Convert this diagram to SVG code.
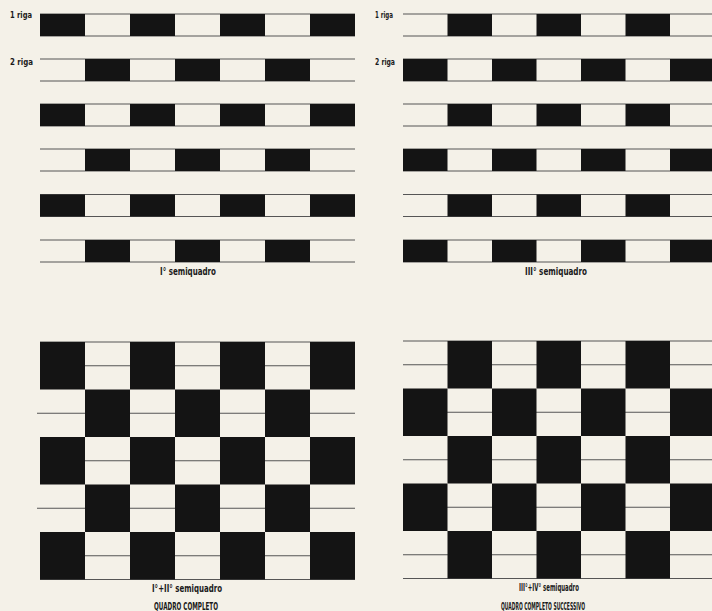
<svg xmlns="http://www.w3.org/2000/svg" width="712" height="611" viewBox="0 0 712 611">
<style>
.b{fill:#141414}
.l{stroke:#555;stroke-width:1;fill:none}
.t{font-family:"DejaVu Sans Condensed","DejaVu Sans",sans-serif;font-weight:bold;fill:#1a1a1a}
.s{font-size:9px}
.c{font-size:10px;text-anchor:middle}
</style>
<rect width="712" height="611" fill="#f4f1e8"/>
<g id="panel-I">
<g class="l">
<path d="M40 14H355M40 36H355M40 59H355M40 81H355M40 104H355M40 126H355M40 149H355M40 171H355M40 194.5H355M40 216.5H355M40 240H355M40 262H355"/>
</g>
<g class="b">
<rect x="40" y="14" width="45" height="22"/><rect x="130" y="14" width="45" height="22"/><rect x="220" y="14" width="45" height="22"/><rect x="310" y="14" width="45" height="22"/>
<rect x="85" y="59" width="45" height="22"/><rect x="175" y="59" width="45" height="22"/><rect x="265" y="59" width="45" height="22"/>
<rect x="40" y="104" width="45" height="22"/><rect x="130" y="104" width="45" height="22"/><rect x="220" y="104" width="45" height="22"/><rect x="310" y="104" width="45" height="22"/>
<rect x="85" y="149" width="45" height="22"/><rect x="175" y="149" width="45" height="22"/><rect x="265" y="149" width="45" height="22"/>
<rect x="40" y="194.5" width="45" height="22"/><rect x="130" y="194.5" width="45" height="22"/><rect x="220" y="194.5" width="45" height="22"/><rect x="310" y="194.5" width="45" height="22"/>
<rect x="85" y="240" width="45" height="22"/><rect x="175" y="240" width="45" height="22"/><rect x="265" y="240" width="45" height="22"/>
</g>
<text class="t s" x="10" y="18" textLength="22" lengthAdjust="spacingAndGlyphs">1 riga</text>
<text class="t s" x="10" y="65" textLength="23" lengthAdjust="spacingAndGlyphs">2 riga</text>
<text class="t c" x="188" y="275" textLength="56" lengthAdjust="spacingAndGlyphs">I° semiquadro</text>
</g>
<g id="panel-III">
<g class="l">
<path d="M403 14H712M403 36H712M403 59H712M403 81H712M403 104H712M403 126H712M403 149H712M403 171H712M403 194.5H712M403 216.5H712M403 240H712M403 262H712"/>
</g>
<g class="b">
<rect x="447.5" y="14" width="44.5" height="22"/><rect x="536.5" y="14" width="44.5" height="22"/><rect x="625.5" y="14" width="44.5" height="22"/>
<rect x="403" y="59" width="44.5" height="22"/><rect x="492" y="59" width="44.5" height="22"/><rect x="581" y="59" width="44.5" height="22"/><rect x="670" y="59" width="44.5" height="22"/>
<rect x="447.5" y="104" width="44.5" height="22"/><rect x="536.5" y="104" width="44.5" height="22"/><rect x="625.5" y="104" width="44.5" height="22"/>
<rect x="403" y="149" width="44.5" height="22"/><rect x="492" y="149" width="44.5" height="22"/><rect x="581" y="149" width="44.5" height="22"/><rect x="670" y="149" width="44.5" height="22"/>
<rect x="447.5" y="194.5" width="44.5" height="22"/><rect x="536.5" y="194.5" width="44.5" height="22"/><rect x="625.5" y="194.5" width="44.5" height="22"/>
<rect x="403" y="240" width="44.5" height="22"/><rect x="492" y="240" width="44.5" height="22"/><rect x="581" y="240" width="44.5" height="22"/><rect x="670" y="240" width="44.5" height="22"/>
</g>
<text class="t s" x="375" y="18" textLength="18" lengthAdjust="spacingAndGlyphs">1 riga</text>
<text class="t s" x="375" y="65" textLength="20" lengthAdjust="spacingAndGlyphs">2 riga</text>
<text class="t c" x="556" y="275" textLength="62" lengthAdjust="spacingAndGlyphs">III° semiquadro</text>
</g>
<g id="panel-I-II">
<g class="l">
<path d="M40 342H355M40 365.75H355M37 413.25H355M40 460.75H355M37 508.25H355M40 555.75H355M40 579.5H355"/>
</g>
<g class="b">
<rect x="40" y="342" width="45" height="47.5"/><rect x="130" y="342" width="45" height="47.5"/><rect x="220" y="342" width="45" height="47.5"/><rect x="310" y="342" width="45" height="47.5"/>
<rect x="85" y="389.5" width="45" height="47.5"/><rect x="175" y="389.5" width="45" height="47.5"/><rect x="265" y="389.5" width="45" height="47.5"/>
<rect x="40" y="437" width="45" height="47.5"/><rect x="130" y="437" width="45" height="47.5"/><rect x="220" y="437" width="45" height="47.5"/><rect x="310" y="437" width="45" height="47.5"/>
<rect x="85" y="484.5" width="45" height="47.5"/><rect x="175" y="484.5" width="45" height="47.5"/><rect x="265" y="484.5" width="45" height="47.5"/>
<rect x="40" y="532" width="45" height="47.5"/><rect x="130" y="532" width="45" height="47.5"/><rect x="220" y="532" width="45" height="47.5"/><rect x="310" y="532" width="45" height="47.5"/>
</g>
<text class="t c" x="187" y="592" textLength="70" lengthAdjust="spacingAndGlyphs">I°+II° semiquadro</text>
<text class="t c" x="186" y="610" textLength="64" lengthAdjust="spacingAndGlyphs">QUADRO COMPLETO</text>
</g>
<g id="panel-III-IV">
<g class="l">
<path d="M403 341H712M403 364.75H712M403 412.25H712M403 459.75H712M403 507.25H712M403 554.75H712M403 578.5H712"/>
</g>
<g class="b">
<rect x="447.5" y="341" width="44.5" height="47.5"/><rect x="536.5" y="341" width="44.5" height="47.5"/><rect x="625.5" y="341" width="44.5" height="47.5"/>
<rect x="403" y="388.5" width="44.5" height="47.5"/><rect x="492" y="388.5" width="44.5" height="47.5"/><rect x="581" y="388.5" width="44.5" height="47.5"/><rect x="670" y="388.5" width="44.5" height="47.5"/>
<rect x="447.5" y="436" width="44.5" height="47.5"/><rect x="536.5" y="436" width="44.5" height="47.5"/><rect x="625.5" y="436" width="44.5" height="47.5"/>
<rect x="403" y="483.5" width="44.5" height="47.5"/><rect x="492" y="483.5" width="44.5" height="47.5"/><rect x="581" y="483.5" width="44.5" height="47.5"/><rect x="670" y="483.5" width="44.5" height="47.5"/>
<rect x="447.5" y="531" width="44.5" height="47.5"/><rect x="536.5" y="531" width="44.5" height="47.5"/><rect x="625.5" y="531" width="44.5" height="47.5"/>
</g>
<text class="t c" x="549" y="591" textLength="60" lengthAdjust="spacingAndGlyphs">III°+IV° semiquadro</text>
<text class="t c" x="543" y="610" textLength="84" lengthAdjust="spacingAndGlyphs">QUADRO COMPLETO SUCCESSIVO</text>
</g>
</svg>
